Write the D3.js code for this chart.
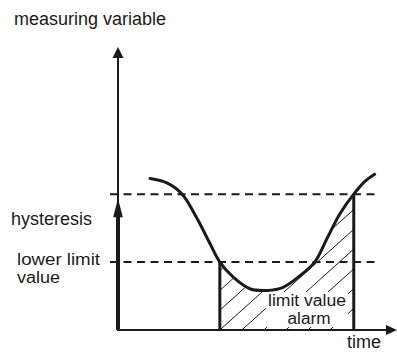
<!DOCTYPE html>
<html>
<head>
<meta charset="utf-8">
<script src="https://cdn.jsdelivr.net/npm/d3@7/dist/d3.min.js"></script>
<style>
  html, body { margin: 0; padding: 0; background: #fff; }
  svg { display: block; }
  text { font-family: "Liberation Sans", Arial, sans-serif; font-size: 18px; fill: #1a1a1a; }
  text.two-line { font-size: 16px; }
</style>
</head>
<body>
<svg id="chart" width="397" height="352"></svg>
<script>
// Measuring variable over time (arbitrary units, 0–100 on both axes)
const timeValues    = [11.5, 17.5, 23, 28, 33, 36.5, 41.5, 47.5, 53.5, 59, 65, 70.5, 75, 79.5, 84.5, 88.5, 92];
const measureValues = [53.5, 52, 48, 40, 30.5, 24, 18.5, 14.5, 14, 15, 19, 24, 32.5, 41, 48, 52.5, 55];

// Switching thresholds
const lowerLimit = 24;   // lower limit value
const upperLimit = 48;   // lower limit + hysteresis

// Time span during which the limit value alarm is active
const alarmStart = 36.5;
const alarmEnd   = 84.5;

// Texts
const axisLabels   = ["measuring variable", "time"];
const limitLabels  = ["hysteresis", "lower limit", "value"];
const alarmLabels  = ["limit value", "alarm"];

const svg = d3.select("#chart");
const ink = "#1a1a1a";

const x = d3.scaleLinear().domain([0, 100]).range([118, 397]);
const y = d3.scaleLinear().domain([0, 100]).range([330, 47]);

const data = timeValues.map((t, i) => ({ t, v: measureValues[i] }));

// ---- hatched alarm area (under the curve, between alarm start and end)
const defs = svg.append("defs");
defs.append("clipPath").attr("id", "alarm-span")
  .append("rect")
  .attr("x", x(alarmStart)).attr("y", y(100))
  .attr("width", x(alarmEnd) - x(alarmStart)).attr("height", y(0) - y(100));

const area = d3.area()
  .x(d => x(d.t)).y0(y(0)).y1(d => y(d.v))
  .curve(d3.curveCatmullRom.alpha(0.5));
defs.append("clipPath").attr("id", "under-curve")
  .append("path").attr("d", area(data));

const hatchSpacing = 22, hatchSlope = 0.9;
const offsets = d3.range(x(alarmStart) - 8 * hatchSpacing, x(alarmEnd) + hatchSpacing, hatchSpacing);
svg.append("g").attr("clip-path", "url(#alarm-span)")
  .append("g").attr("clip-path", "url(#under-curve)")
  .selectAll("line").data(offsets).join("line")
  .attr("x1", d => d).attr("y1", y(0))
  .attr("x2", d => d + 250).attr("y2", y(0) - 250 * hatchSlope)
  .attr("stroke", ink).attr("stroke-width", 1);

// ---- limit value alarm label (two lines) on a white box
const alarmG = svg.append("g");
alarmG.append("text").attr("class", "two-line")
  .attr("x", 268).attr("y", 306).attr("textLength", 78).attr("lengthAdjust", "spacingAndGlyphs")
  .text(alarmLabels[0]);
alarmG.append("text").attr("class", "two-line")
  .attr("x", 287.5).attr("y", 324.2).attr("textLength", 43).attr("lengthAdjust", "spacingAndGlyphs")
  .text(alarmLabels[1]);
alarmG.insert("rect", ":first-child")
  .attr("x", 266).attr("y", 292)
  .attr("width", 82).attr("height", 35)
  .attr("fill", "#fff");

// ---- threshold lines
svg.append("g").selectAll("line").data([upperLimit, lowerLimit]).join("line")
  .attr("x1", x(0) - 8).attr("x2", x(93))
  .attr("y1", d => y(d)).attr("y2", d => y(d))
  .attr("stroke", ink).attr("stroke-width", 2).attr("stroke-dasharray", "8,5.5");

// ---- alarm start / end markers
svg.append("g").selectAll("line")
  .data([{ t: alarmStart, v: lowerLimit }, { t: alarmEnd, v: upperLimit }]).join("line")
  .attr("x1", d => x(d.t)).attr("x2", d => x(d.t))
  .attr("y1", y(0)).attr("y2", d => y(d.v))
  .attr("stroke", ink).attr("stroke-width", 3);

// ---- measured curve
const line = d3.line().x(d => x(d.t)).y(d => y(d.v)).curve(d3.curveCatmullRom.alpha(0.5));
svg.append("path").attr("d", line(data))
  .attr("fill", "none").attr("stroke", ink).attr("stroke-width", 3)
  .attr("stroke-linecap", "round");

// ---- axes with arrow heads
const axes = svg.append("g");
axes.append("line").attr("x1", x(0)).attr("y1", y(0)).attr("x2", x(0)).attr("y2", y(100) + 8)
  .attr("stroke", ink).attr("stroke-width", 2);
axes.append("line").attr("x1", x(0) - 1).attr("y1", y(0)).attr("x2", x(100) - 8).attr("y2", y(0))
  .attr("stroke", ink).attr("stroke-width", 2);
axes.append("path")
  .attr("d", `M${x(0)},${y(100)} L${x(0) + 5.5},${y(100) + 11} L${x(0) - 5.5},${y(100) + 11} Z`)
  .attr("fill", ink);
axes.append("path")
  .attr("d", `M${x(100)},${y(0)} L${x(100) - 11},${y(0) - 5} L${x(100) - 11},${y(0) + 5} Z`)
  .attr("fill", ink);

// ---- hysteresis arrow along the vertical axis
const hTip = y(upperLimit) + 4;
axes.append("line").attr("x1", x(0)).attr("x2", x(0))
  .attr("y1", y(0)).attr("y2", hTip + 16)
  .attr("stroke", ink).attr("stroke-width", 4);
axes.append("path")
  .attr("d", `M${x(0)},${hTip} L${x(0) + 4.8},${hTip + 19} L${x(0) - 4.8},${hTip + 19} Z`)
  .attr("fill", ink);

// ---- texts
svg.append("text").attr("x", 14).attr("y", 25).text(axisLabels[0]);
svg.append("text").attr("x", 347).attr("y", 348).text(axisLabels[1]);
svg.append("text").attr("x", 11).attr("y", 225).text(limitLabels[0]);
svg.append("text").attr("class", "two-line")
  .attr("x", 17).attr("y", 265).attr("textLength", 83).attr("lengthAdjust", "spacingAndGlyphs")
  .text(limitLabels[1]);
svg.append("text").attr("class", "two-line")
  .attr("x", 17).attr("y", 283.2).attr("textLength", 43).attr("lengthAdjust", "spacingAndGlyphs")
  .text(limitLabels[2]);
</script>
</body>
</html>
